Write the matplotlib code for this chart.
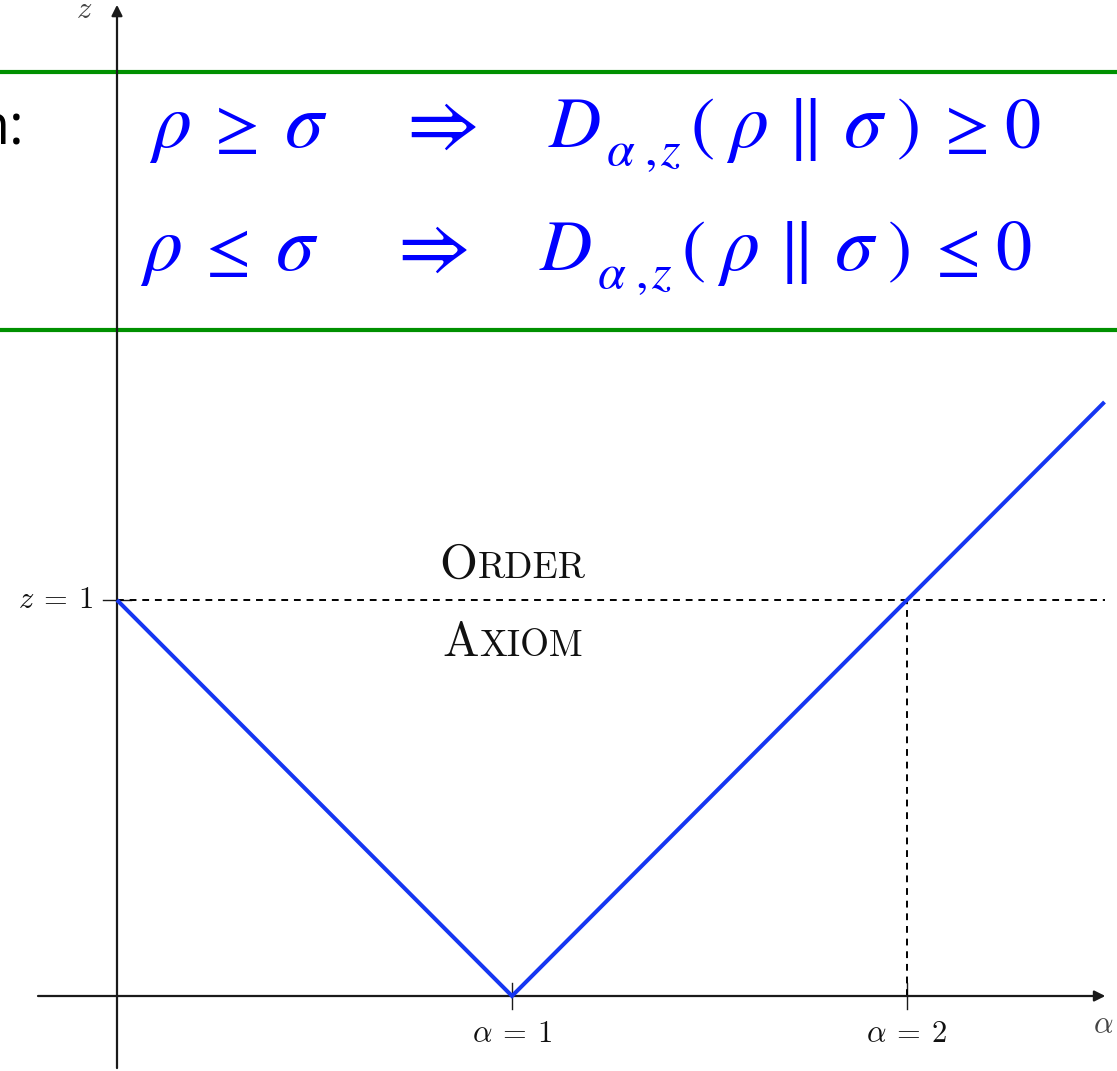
import matplotlib
matplotlib.use("Agg")
import matplotlib.pyplot as plt

# Piecewise-linear z(alpha) curve
alpha_pts = [0.0, 1.0, 2.5]
z_pts = [1.0, 0.0, 1.5]

# Marked positions on the axes
alpha_ticks = [1.0, 2.0]
alpha_tick_labels = [r"$\alpha\:=\:1$", r"$\alpha\:=\:2$"]
z_ticks = [1.0]
z_tick_labels = [r"$z\:=\:1$"]

# Statements in the header band, split into symbols
statement_ge = [r"\rho", r"\geq", r"\sigma", r"\Rightarrow", "D", r"\alpha", ",", "z",
                "(", r"\rho", r"\|", r"\sigma", ")", r"\geq", "0"]
statement_le = [r"\rho", r"\leq", r"\sigma", r"\Rightarrow", "D", r"\alpha", ",", "z",
                "(", r"\rho", r"\|", r"\sigma", ")", r"\leq", "0"]
# symbol role: "m" main, "g" greek letter, "r" relation, "a" arrow, "s" subscript
symbol_roles = ["g", "r", "g", "a", "m", "s", "s", "s",
                "m", "g", "m", "g", "m", "r", "m"]

W, H, DPI = 1117, 1071, 100
fig = plt.figure(figsize=(W / DPI, H / DPI), dpi=DPI)
ax = fig.add_axes([0, 0, 1, 1])
ax.set_axis_off()

unit_x, unit_y = 395.0, 396.0
ox, oy = 117.0, 996.0
ax.set_xlim(-ox / unit_x, (W - ox) / unit_x)
ax.set_ylim(-(H - oy) / unit_y, oy / unit_y)

axis_col = "#1a1a1a"
blue = "#1536f2"
green = "#009000"


def px(x, y):
    """Figure pixel (from top-left) to data coordinates."""
    return (x - ox) / unit_x, (oy - y) / unit_y


# coordinate axes with arrow heads
arrow_kw = dict(arrowstyle="-|>", color=axis_col, lw=1.6,
                mutation_scale=16, shrinkA=0, shrinkB=0)
ax.annotate("", xy=(2.502, 0), xytext=(-0.2, 0), arrowprops=arrow_kw)
ax.annotate("", xy=(0, 2.503), xytext=(0, -0.182), arrowprops=arrow_kw)

# ticks
for a in alpha_ticks:
    ax.plot([a, a], [-0.033, 0.033], color=axis_col, lw=1.0)
for zt in z_ticks:
    ax.plot([-0.035, 0.035], [zt, zt], color=axis_col, lw=1.0)

# dashed guides
ax.plot([0, 2.5], [1, 1], color="black", lw=1.4, ls=(0, (3.5, 3)))
ax.plot([2, 2], [0, 1], color="black", lw=1.4, ls=(0, (3.5, 3)))

# curve
ax.plot(alpha_pts, z_pts, color=blue, lw=2.9, solid_capstyle="butt",
        solid_joinstyle="miter", zorder=5)

# tick labels
for a, lab in zip(alpha_ticks, alpha_tick_labels):
    ax.text(a, -0.095, lab, ha="center", va="center", fontsize=22,
            math_fontfamily="cm", color="#111111")
for zt, lab in zip(z_ticks, z_tick_labels):
    ax.text(-0.06, zt, lab, ha="right", va="center", fontsize=22,
            math_fontfamily="cm", color="#111111")

# axis names
ax.text(2.47, -0.072, r"$\alpha$", ha="left", va="center", fontsize=22,
        math_fontfamily="cm", color="#444444")
ax.text(*px(84, 9), r"$z$", ha="center", va="center", fontsize=22,
        math_fontfamily="cm", color="#444444")


def small_caps(x, y, word, size):
    """Draw a word in small capitals, centred at (x, y) baseline."""
    first = ax.text(0, 0, word[0], fontsize=size, family="cmr10")
    rest = ax.text(0, 0, word[1:].upper(), fontsize=size * 0.76, family="cmr10")
    fig.canvas.draw()
    r = fig.canvas.get_renderer()
    w1 = first.get_window_extent(r).width
    w2 = rest.get_window_extent(r).width
    first.remove()
    rest.remove()
    pxx, pyy = ax.transData.transform((x, y))
    left = pxx - (w1 + w2) / 2
    inv = ax.transData.inverted()
    x1, _ = inv.transform((left, pyy))
    x2, _ = inv.transform((left + w1 + 1, pyy))
    ax.text(x1, y, word[0], fontsize=size, family="cmr10", ha="left",
            va="baseline", color="#111111")
    ax.text(x2, y, word[1:].upper(), fontsize=size * 0.76, family="cmr10",
            ha="left", va="baseline", color="#111111")


small_caps(1.0, (oy - 578) / unit_y, "Order", 35)
small_caps(1.0, (oy - 656) / unit_y, "Axiom", 35)

# header band
for ypx in (72, 330):
    ax.axhline((oy - ypx) / unit_y, color=green, lw=3.0)

# horizontal centres of each symbol (pixels), relative to the first symbol
symbol_dx = [-2, 60, 134, 264, 403.5, 449.5, 478.5, 499.5,
             530.5, 575, 630, 693, 735.5, 790, 850.5]
role_size = {"m": 52, "g": 56, "r": 47, "a": 57, "s": 36}
role_drop = {"m": 0, "g": 0, "r": 0, "a": 0, "s": 18}


def statement(x0, base, symbols):
    for sym, dx, role in zip(symbols, symbol_dx, symbol_roles):
        ax.text(*px(x0 + dx, base + role_drop[role]), "$" + sym + "$",
                ha="center", va="baseline", fontsize=role_size[role],
                math_fontfamily="stix", color="#0000ff")


statement(171.5, 147, statement_ge)
statement(162.5, 270, statement_le)

ax.text(*px(24, 130), "n:", ha="right", va="center", fontsize=40,
        family="Open Sans", color="black")
ax.text(*px(1058, -8), "(", ha="left", va="bottom", fontsize=40,
        family="DejaVu Serif", color="red")

fig.savefig("out.png", dpi=DPI)
